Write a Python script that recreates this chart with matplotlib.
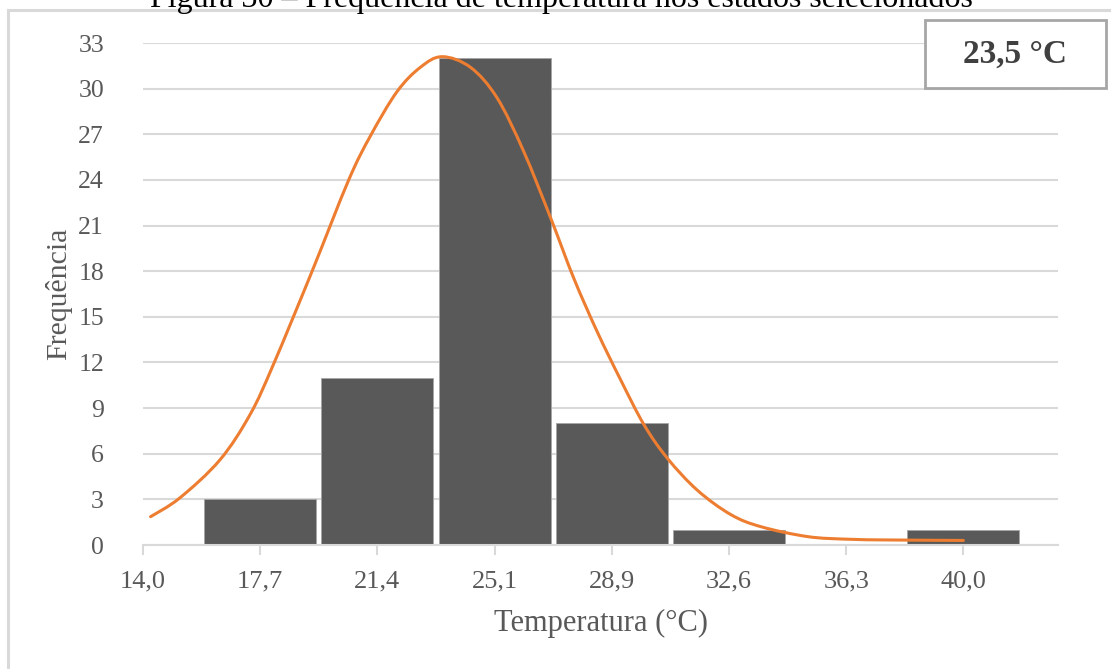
import matplotlib.pyplot as plt
from matplotlib.patches import Rectangle, PathPatch
from matplotlib.path import Path

# histogram classes (bar centres) and counts
bin_centers = [17.714, 21.429, 25.143, 28.857, 32.571, 36.286, 40.0]
frequencies = [3, 11, 32, 8, 1, 0, 1]

# tick labels on the x axis
tick_values = [14.0, 17.714, 21.429, 25.143, 28.857, 32.571, 36.286, 40.0]
tick_labels = ['14,0', '17,7', '21,4', '25,1', '28,9', '32,6', '36,3', '40,0']

# fitted curve, points
curve_x = [14.24, 15.17, 16.44, 17.40, 18.14, 19.36, 20.52, 21.21, 22.05, 22.79,
           23.48, 24.38, 25.22, 26.06, 26.92, 27.66, 28.40, 29.14, 29.88, 30.62,
           31.57, 32.63, 33.59, 35.07, 36.34, 37.71, 40.0]
curve_y = [1.86, 3.1, 5.6, 8.6, 11.9, 18.0, 24.0, 26.9, 29.8, 31.4,
           32.1, 31.4, 29.4, 25.9, 21.5, 17.5, 14.0, 10.85, 7.9, 5.7,
           3.6, 2.0, 1.2, 0.55, 0.38, 0.33, 0.3]

mean_label = '23,5 °C'

plt.rcParams['font.family'] = ['Liberation Serif', 'DejaVu Serif']

fig = plt.figure(figsize=(11.11, 6.69), dpi=100)
ax = fig.add_axes([143/1111, 1 - 545/669, 915/1111, 502/669])

grey_txt = '#595959'
grid_c = '#d9d9d9'

ax.bar(bin_centers, frequencies, width=3.55, color='#595959',
       edgecolor='#a6a6a6', linewidth=0.6, zorder=2)

# smoothed line through the read points (like excel's "smoothed line")
pts = list(zip(curve_x, curve_y))
verts = [pts[0]]
codes = [Path.MOVETO]
for i in range(len(pts) - 1):
    p0 = pts[i - 1] if i > 0 else pts[i]
    p1 = pts[i]
    p2 = pts[i + 1]
    p3 = pts[i + 2] if i + 2 < len(pts) else pts[i + 1]
    c1 = (p1[0] + (p2[0] - p0[0]) / 6, p1[1] + (p2[1] - p0[1]) / 6)
    c2 = (p2[0] - (p3[0] - p1[0]) / 6, p2[1] - (p3[1] - p1[1]) / 6)
    verts += [c1, c2, p2]
    codes += [Path.CURVE4] * 3
ax.add_patch(PathPatch(Path(verts, codes), facecolor='none', edgecolor='#ed7d31',
                       linewidth=2.2, capstyle='round', zorder=3))

ax.set_xlim(14.0, 43.0)
ax.set_ylim(0, 33)
ax.set_yticks(range(0, 34, 3))
ax.set_xticks(tick_values)
ax.set_xticklabels(tick_labels)

ax.grid(axis='y', color=grid_c, linewidth=1.5, zorder=0)
ax.set_axisbelow(True)
for s in ['top', 'right', 'left']:
    ax.spines[s].set_visible(False)
ax.spines['bottom'].set_color(grid_c)
ax.spines['bottom'].set_linewidth(1.5)
ax.tick_params(axis='y', length=0, pad=28, labelsize=18.5, labelcolor=grey_txt)
ax.tick_params(axis='x', length=7, width=1.5, color=grid_c, pad=11,
               labelsize=19, labelcolor=grey_txt)

ax.set_xlabel('Temperatura (°C)', fontsize=22, color=grey_txt, labelpad=12)
ax.set_ylabel('Frequência', fontsize=21.5, color=grey_txt)
ax.yaxis.set_label_coords(-0.077, 0.5)

# box with the mean value
fig.patches.append(Rectangle((925/1111, 1 - 88/669), 181/1111, 68/669,
                             transform=fig.transFigure, facecolor='white',
                             edgecolor='#a6a6a6', linewidth=2, zorder=5))
fig.text(1015/1111, 1 - 54/669, mean_label, fontsize=24, fontweight='bold',
         color='#404040', ha='center', va='center', zorder=6)

# outer chart frame (runs off the right and bottom edges)
fig.patches.append(Rectangle((8/1111, -0.2), 1.2, 1 - 10/669 + 0.2,
                             transform=fig.transFigure, fill=False,
                             edgecolor=grid_c, linewidth=2.2, zorder=0))

# caption, mostly cut off at the top
fig.text(561/1111, 1 - 7/669,
         'Figura 30 – Frequência de temperatura nos estados selecionados',
         fontsize=23, color='black', ha='center', va='baseline')

fig.savefig('out.png', dpi=100)
